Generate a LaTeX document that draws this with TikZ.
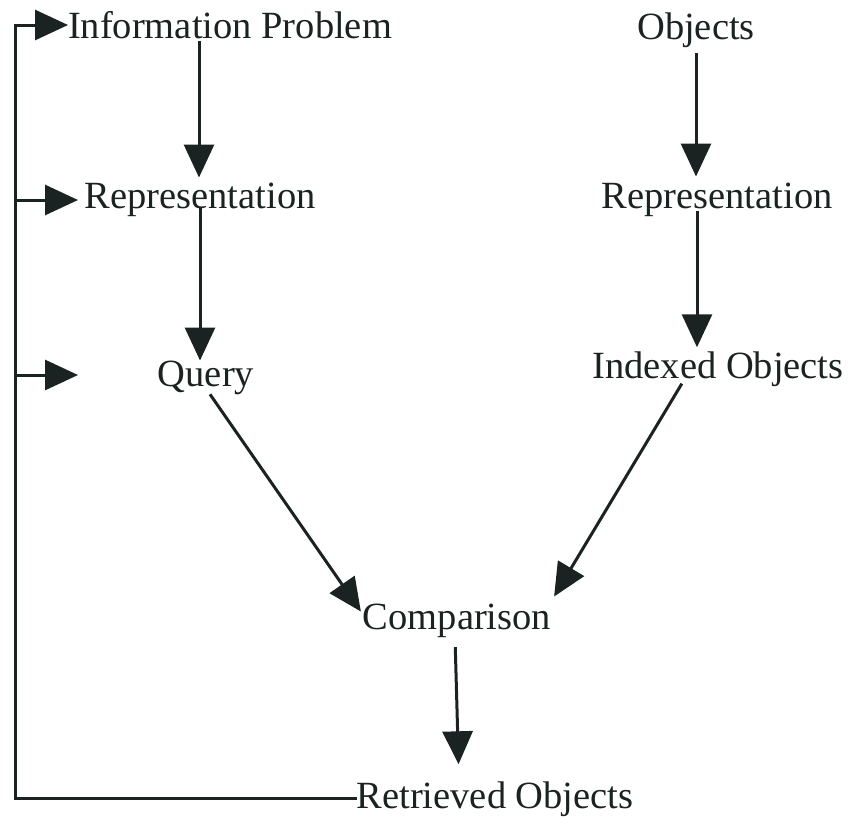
\documentclass[tikz,border=0pt]{standalone}
\usepackage{fontspec}
\setmainfont{Liberation Serif}
\usetikzlibrary{arrows.meta,calc}
\definecolor{ink}{HTML}{1A2321}
\tikzset{
  lbl/.style={inner sep=0pt, outer sep=0pt, anchor=base, text=ink, font=\fontsize{38.5}{40}\selectfont},
  ln/.style={draw=ink, line width=3pt},
  arr/.style={ln, -{Triangle[length=33pt,width=30pt]}}
}
\begin{document}
\begin{tikzpicture}[x=1pt,y=-1pt]
\useasboundingbox (0,0) rectangle (848,817);
% nodes
\node[lbl] (ip)    at (230,38)  {Information Problem};
\node[lbl] (obj)   at (696,39)  {Objects};
\node[lbl] (repL)  at (200,208) {Representation};
\node[lbl] (repR)  at (717,208) {Representation};
\node[lbl] (query) at (206,386) {Query};
\node[lbl] (idx)   at (718,378) {Indexed Objects};
\node[lbl] (comp)  at (457,629) {Comparison};
\node[lbl] (ret)   at (495,808) {Retrieved Objects};
% feedback loop coordinates
\coordinate (ct) at (15,25);
\coordinate (b2) at (15,200);
\coordinate (a2) at (78,200);
\coordinate (b3) at (15,375);
\coordinate (a3) at (78,375);
% feedback loop
\draw[arr, line join=miter] (ret.west) -| (ct) -- (ip.west |- ct);
\draw[arr] (b2) -- (a2);
\draw[arr] (b3) -- (a3);
% left column
\draw[arr, shorten >=5pt] ($(ip.base -| repL.base)+(-1,3)$) -- ($(repL.north)+(-1,0)$);
\draw[arr] (repL.base) -- (repL.base |- query.north);
% right column
\draw[arr, shorten <=6pt, shorten >=6pt] (obj.south) -- (obj.south |- repR.north);
\draw[arr, shorten >=4pt] ($(obj.south |- repR.base)+(1,3)$) -- ($(obj.south |- idx.north)+(1,0)$);
% to comparison
\draw[arr] ($(query.south)+(4,0)$) -- ($(comp.north west)+(-2,8)$);
\draw[arr, shorten <=-3pt] ($(idx.south)!0.3!(idx.south west)$) -- ($(comp.north east)+(3,-7)$);
% to retrieved
\draw[arr, shorten <=10pt, shorten >=17pt] ($(comp.south)+(-2,0)$) -- ($(comp.south |- ret.north)+(2,0)$);
\end{tikzpicture}
\end{document}
